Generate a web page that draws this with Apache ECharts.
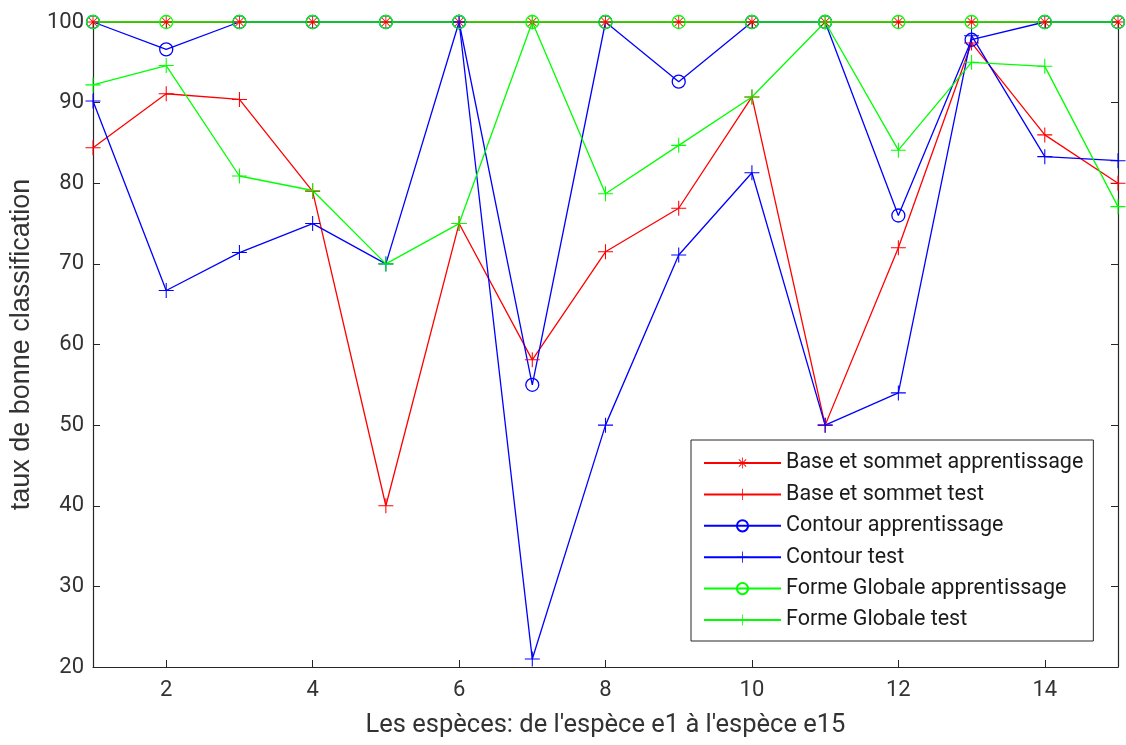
<!DOCTYPE html>
<html>
<head>
<meta charset="utf-8">
<script src="https://cdn.jsdelivr.net/npm/echarts@6/dist/echarts.min.js"></script>
<style>
  html, body { margin: 0; padding: 0; background: #fff; }
  #chart { width: 1126px; height: 745px; }
</style>
</head>
<body>
<div id="chart"></div>
<script>
(function() {

var myChart = echarts.init(document.getElementById('chart'));

// espèces e1 .. e15
var especes = [1, 2, 3, 4, 5, 6, 7, 8, 9, 10, 11, 12, 13, 14, 15];
var xTicks = [2, 4, 6, 8, 10, 12, 14];

// taux de bonne classification (%)
var baseApp     = [100, 100, 100, 100, 100, 100, 100, 100, 100, 100, 100, 100, 100, 100, 100];
var baseTest    = [84.4, 91.1, 90.4, 79, 40, 75, 58.1, 71.5, 76.9, 90.7, 50, 72, 97.4, 86, 80];
var contourApp  = [100, 96.6, 100, 100, 100, 100, 55, 100, 92.6, 100, 100, 76, 97.8, 100, 100];
var contourTest = [90.2, 66.7, 71.4, 75, 70, 100, 21, 50, 71.1, 81.3, 50, 54, 98.3, 83.3, 82.8];
var formeApp    = [100, 100, 100, 100, 100, 100, 100, 100, 100, 100, 100, 100, 100, 100, 100];
var formeTest   = [92.2, 94.6, 80.9, 79.1, 70, 75, 100, 78.7, 84.7, 90.7, 100, 84.1, 95, 94.5, 77.1];

var noms = [
    'Base et sommet apprentissage',
    'Base et sommet test',
    'Contour apprentissage',
    'Contour test',
    'Forme Globale apprentissage',
    'Forme Globale test'
];

// marqueurs façon matlab
var plus = 'path://M9.3,0h1.4v20h-1.4z M0,9.3h20v1.4h-20z';
var star = 'path://M9.3,0h1.4v20h-1.4z M0,9.3h20v1.4h-20z M3,4 L4,3 L17,16 L16,17 Z M16,3 L17,4 L4,17 L3,16 Z';

var axisColor = '#262626';
var font = 'Roboto, "Noto Sans", sans-serif';

function serie(nom, valeurs, couleur, symbole, taille, vide) {
    return {
        name: nom,
        type: 'line',
        data: especes.map(function(x, i) { return [x, valeurs[i]]; }),
        symbol: symbole,
        symbolSize: taille,
        showAllSymbol: true,
        clip: false,
        animation: false,
        lineStyle: { color: couleur, width: 1.3 },
        itemStyle: vide
            ? { color: 'rgba(255,255,255,0)', borderColor: couleur, borderWidth: 1.3 }
            : { color: couleur, borderWidth: 0 },
        emphasis: { disabled: true }
    };
}

var option = {
    backgroundColor: '#ffffff',
    textStyle: { fontFamily: font },
    grid: { left: 93, right: 8, top: 22, bottom: 78 },
    legend: {
        orient: 'vertical',
        left: 691,
        top: 440,
        padding: [12, 10, 10, 12],
        itemWidth: 77,
        itemHeight: 14,
        itemGap: 9.4,
        backgroundColor: '#ffffff',
        borderColor: axisColor,
        borderWidth: 1,
        borderRadius: 0,
        textStyle: { fontSize: 21.5, lineHeight: 22, color: '#1a1a1a', fontFamily: font },
        data: noms
    },
    xAxis: [{
        type: 'value',
        min: 1,
        max: 15,
        name: "Les espèces: de l'espèce e1 à l'espèce e15",
        nameLocation: 'middle',
        nameGap: 46,
        nameTextStyle: { fontSize: 25.5, color: '#333' },
        axisLine: { show: true, lineStyle: { color: axisColor, width: 1.2 } },
        axisTick: { show: true, inside: true, length: 7, customValues: xTicks, lineStyle: { color: axisColor } },
        axisLabel: { fontSize: 22, color: '#333', margin: 12, customValues: xTicks },
        splitLine: { show: false }
    }, {
        type: 'value',
        position: 'top',
        min: 1,
        max: 15,
        axisLine: { show: true, onZero: false, lineStyle: { color: axisColor, width: 1.2 } },
        axisTick: { show: true, inside: true, length: 7, customValues: xTicks, lineStyle: { color: axisColor } },
        axisLabel: { show: false },
        splitLine: { show: false }
    }],
    yAxis: [{
        type: 'value',
        min: 20,
        max: 100,
        interval: 10,
        name: 'taux de bonne classification',
        nameLocation: 'middle',
        nameGap: 58,
        nameTextStyle: { fontSize: 27, color: '#333', fontFamily: '"Liberation Sans", Arial, sans-serif' },
        axisLine: { show: true, lineStyle: { color: axisColor, width: 1.2 } },
        axisTick: { show: true, inside: true, length: 7, lineStyle: { color: axisColor } },
        axisLabel: { fontSize: 22, color: '#333', margin: 9 },
        splitLine: { show: false }
    }, {
        type: 'value',
        position: 'right',
        min: 20,
        max: 100,
        interval: 10,
        axisLine: { show: true, onZero: false, lineStyle: { color: axisColor, width: 1.2 } },
        axisTick: { show: true, inside: true, length: 7, lineStyle: { color: axisColor } },
        axisLabel: { show: false },
        splitLine: { show: false }
    }],
    series: [
        serie(noms[0], baseApp, '#ff0000', star, 13, false),
        serie(noms[1], baseTest, '#ff0000', plus, 15, false),
        serie(noms[2], contourApp, '#0000ff', 'circle', 13, true),
        serie(noms[3], contourTest, '#0000ff', plus, 15, false),
        serie(noms[4], formeApp, '#00ff00', 'circle', 13, true),
        serie(noms[5], formeTest, '#00ff00', plus, 15, false)
    ]
};

myChart.setOption(option);

window.onresize = function() {
    myChart.resize();
};

})();
</script>
</body>
</html>
